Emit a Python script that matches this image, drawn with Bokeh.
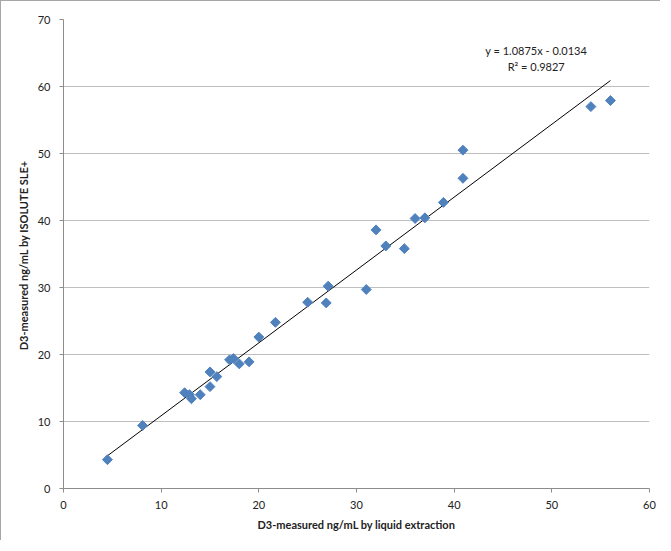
from bokeh.plotting import figure
from bokeh.models import Label, FixedTicker
from bokeh.embed import file_html
from bokeh.resources import INLINE
import numpy as np

# data
liquid_extraction = [4.5, 8.1, 12.4, 12.9, 13.1, 14.0, 15.0, 15.0, 15.7, 17.0, 17.4, 18.0, 19.0,
                     20.0, 21.7, 25.0, 26.9, 27.1, 31.0, 32.0, 33.0, 34.9, 36.0, 37.0, 38.9,
                     40.9, 40.9, 54.0, 56.0]
isolute_sle = [4.3, 9.4, 14.3, 14.0, 13.4, 14.0, 17.4, 15.2, 16.7, 19.2, 19.4, 18.6, 18.9,
               22.6, 24.8, 27.8, 27.7, 30.2, 29.7, 38.6, 36.2, 35.8, 40.3, 40.4, 42.7,
               46.3, 50.5, 57.0, 57.9]
slope = 1.0875
intercept = -0.0134
r_squared = 0.9827
x_ticks = [0, 10, 20, 30, 40, 50, 60]
y_ticks = [0, 10, 20, 30, 40, 50, 60, 70]

FONT = "Lato"

p = figure(width=660, height=540, x_range=(0, 60), y_range=(0, 70),
           output_backend="svg", toolbar_location=None,
           min_border_left=62, min_border_right=12, min_border_top=18, min_border_bottom=53)
p.styles = {"border-left": "1px solid #a6a6a6", "border-top": "1px solid #a6a6a6"}
p.outline_line_color = None
p.background_fill_color = "white"

p.xgrid.grid_line_color = None
p.ygrid.grid_line_color = "#bfbfbf"
p.ygrid.grid_line_width = 1

for ax in (p.xaxis, p.yaxis):
    ax.axis_line_color = "#8c8c8c"
    ax.major_tick_line_color = "#8c8c8c"
    ax.major_tick_out = 4
    ax.major_tick_in = 0
    ax.minor_tick_line_color = None
    ax.major_label_text_font = FONT
    ax.major_label_text_font_size = "11px"
    ax.major_label_text_color = "#222222"
    ax.axis_label_text_font = FONT
    ax.axis_label_text_font_size = "11px"
    ax.axis_label_text_font_style = "bold"
    ax.axis_label_text_color = "#222222"

p.xaxis.ticker = FixedTicker(ticks=x_ticks)
p.yaxis.ticker = FixedTicker(ticks=y_ticks)
p.xaxis.axis_label = "D3-measured ng/mL by liquid extraction"
p.yaxis.axis_label = "D3-measured ng/mL  by ISOLUTE SLE+"
p.xaxis.major_label_standoff = 8
p.xaxis.axis_label_standoff = 6
p.yaxis.major_label_standoff = 9
p.yaxis.axis_label_standoff = 5

# trendline over data extent
x0, x1 = min(liquid_extraction), max(liquid_extraction)
p.line([x0, x1], [slope * x0 + intercept, slope * x1 + intercept], line_color="black", line_width=1)

p.scatter(liquid_extraction, isolute_sle, marker="square", angle=np.pi / 4, size=7,
          fill_color="#4f81bd", line_color="#4f81bd")

p.add_layout(Label(x=48.4, y=65.3, text=f"y = {slope}x - {abs(intercept)}", text_align="center",
                   text_baseline="middle",
                   text_font=FONT, text_font_size="11px", text_color="#222222"))
p.add_layout(Label(x=48.4, y=63.0, text=f"R² = {r_squared}", text_align="center",
                   text_baseline="middle",
                   text_font=FONT, text_font_size="11px", text_color="#222222"))

open("out.html", "w").write(file_html(p, INLINE))
